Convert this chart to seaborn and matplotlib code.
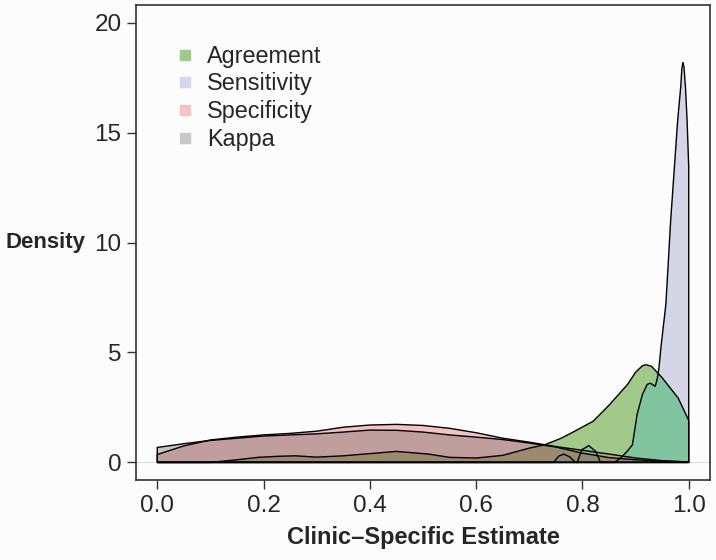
import numpy as np
import matplotlib
matplotlib.use("Agg")
import matplotlib.pyplot as plt
import seaborn as sns
from matplotlib.lines import Line2D
from matplotlib.patches import Polygon

# density curves (x = estimate, y = density)
agree_x = [0.0, 0.10, 0.15, 0.19, 0.23, 0.26, 0.30, 0.35, 0.39, 0.45, 0.51, 0.55, 0.60,
           0.65, 0.70, 0.73, 0.76, 0.78, 0.82, 0.85, 0.885, 0.90, 0.913, 0.92, 0.93, 0.95,
           0.98, 1.0]
agree_y = [0.0, 0.0, 0.12, 0.23, 0.28, 0.30, 0.24, 0.30, 0.38, 0.50, 0.38, 0.23, 0.20,
           0.32, 0.65, 0.81, 1.10, 1.35, 1.87, 2.60, 3.55, 4.10, 4.40, 4.44, 4.37, 3.85,
           2.93, 1.91]

sens_x = [0.0, 0.746, 0.755, 0.765, 0.776, 0.787, 0.79, 0.799, 0.812, 0.825, 0.834, 0.86,
          0.872, 0.884, 0.894, 0.903, 0.913, 0.922, 0.928, 0.937, 0.941, 0.944, 0.948,
          0.957, 0.966, 0.979, 0.985, 0.987, 0.989, 0.991, 0.994, 0.997, 1.0]
sens_y = [0.0, 0.0, 0.28, 0.38, 0.25, 0.0, 0.0, 0.58, 0.76, 0.50, 0.0, 0.0,
          0.20, 0.50, 0.80, 2.20, 3.10, 3.55, 3.60, 3.46, 3.84, 4.30, 5.30,
          7.20, 11.0, 15.5, 17.1, 17.9, 18.2, 18.0, 17.0, 15.5, 13.4]

spec_x = [0.0, 0.05, 0.10, 0.15, 0.20, 0.25, 0.30, 0.35, 0.40, 0.45, 0.50, 0.55, 0.60,
          0.65, 0.70, 0.75, 0.80, 0.85, 0.90, 0.95, 1.0]
spec_y = [0.36, 0.75, 1.02, 1.15, 1.25, 1.32, 1.42, 1.60, 1.70, 1.73, 1.68, 1.55, 1.35,
          1.10, 0.92, 0.72, 0.55, 0.38, 0.20, 0.08, 0.02]

kappa_x = spec_x
kappa_y = [0.68, 0.85, 1.00, 1.10, 1.20, 1.25, 1.30, 1.38, 1.47, 1.46, 1.38, 1.25, 1.15,
           1.04, 0.88, 0.70, 0.42, 0.22, 0.12, 0.05, 0.02]

labels = ["Agreement", "Sensitivity", "Specificity", "Kappa"]
fills = [(0.28, 0.60, 0.10, 0.50), (0.54, 0.56, 0.76, 0.35),
         (0.91, 0.42, 0.42, 0.40), (0.33, 0.33, 0.33, 0.32)]
overlap_col = "#80c4a0"   # agreement under sensitivity
swatch = ["#a1c98b", "#d4d6ea", "#f6c3c3", "#c8c8c8"]

sns.set_style("ticks")
plt.rcParams['font.family'] = ['Liberation Sans', 'DejaVu Sans']

fig = plt.figure(figsize=(7.16, 5.6), dpi=100, facecolor="#fcfcfc")
ax = fig.add_axes([136 / 716, 1 - 480 / 560, 574 / 716, 475 / 560])
ax.set_facecolor("#fcfcfc")

# faint baseline
ax.axhline(0, color="#dddddd", lw=0.8, zorder=0)


def closed(xs, ys):
    return np.column_stack([np.r_[xs, xs[-1], xs[0]], np.r_[ys, 0, 0]])


curves = [(agree_x, agree_y), (sens_x, sens_y), (spec_x, spec_y), (kappa_x, kappa_y)]
polys = []
for i, ((xs, ys), fc) in enumerate(zip(curves, fills)):
    p = Polygon(closed(xs, ys), closed=True, facecolor=fc, edgecolor="none", zorder=2 + i)
    ax.add_patch(p)
    polys.append(p)

# region where agreement and sensitivity overlap
ov = Polygon(closed(agree_x, agree_y), closed=True, facecolor=overlap_col,
             edgecolor="none", zorder=3.5)
ax.add_patch(ov)
ov.set_clip_path(polys[1])

for xs, ys in curves:
    xy = closed(xs, ys)
    ax.add_patch(Polygon(xy, closed=True, fill=False, edgecolor="black", lw=1.0, zorder=7))

ax.set_xlim(-0.04, 1.04)
ax.set_ylim(-0.8, 20.8)
ax.set_xticks([0, 0.2, 0.4, 0.6, 0.8, 1.0])
ax.set_xticklabels(["0.0", "0.2", "0.4", "0.6", "0.8", "1.0"])
ax.set_yticks([0, 5, 10, 15, 20])
ax.tick_params(axis="both", labelsize=17.5, length=6.5, width=1.0, color="#333333",
               direction="out", pad=4)
for s in ax.spines.values():
    s.set_color("#333333")
    s.set_linewidth(1.2)

ax.set_ylabel("Density", rotation=0, fontsize=16, fontweight="bold", ha="left", va="center")
ax.yaxis.set_label_coords(-0.228, 0.5)
ax.set_xlabel("Clinic\u2013Specific Estimate", fontsize=17, fontweight="bold", va="center")
ax.xaxis.set_label_coords(0.5, -0.122)

handles = [Line2D([], [], marker="s", ls="", markersize=7.5, color=c) for c in swatch]
ax.legend(handles, labels, loc="upper left", bbox_to_anchor=(0.052, 0.936), frameon=False,
          fontsize=16.8, handlelength=0.8, handletextpad=0.55, labelspacing=0.2,
          borderaxespad=0.0)

fig.savefig("out.png", dpi=100, facecolor=fig.get_facecolor())
